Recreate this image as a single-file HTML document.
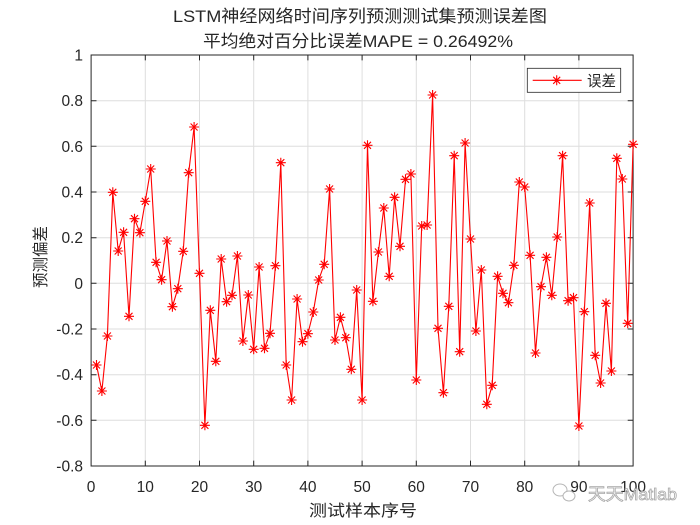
<!DOCTYPE html>
<html><head><meta charset="utf-8"><style>
html,body{margin:0;padding:0;background:#fff;}
svg{display:block;}
text{font-family:"Liberation Sans","Noto Sans CJK SC",sans-serif;fill:#262626;}
</style></head><body>
<svg width="700" height="525" viewBox="0 0 700 525" xmlns="http://www.w3.org/2000/svg">
<defs>
<marker id="m" markerUnits="userSpaceOnUse" markerWidth="12" markerHeight="12" refX="6" refY="6" overflow="visible">
<path d="M1,6H11M6,1V11M2.5,2.5L9.5,9.5M2.5,9.5L9.5,2.5" stroke="#ff0000" stroke-width="1.1" fill="none"/>
</marker>
</defs>
<rect x="0" y="0" width="700" height="525" fill="#fff"/>
<rect x="91.1" y="55" width="542" height="411" fill="#fff"/>
<!-- grid -->
<g stroke="#dedede" stroke-width="1">
<path d="M145.3,55V466M199.5,55V466M253.7,55V466M307.9,55V466M362.1,55V466M416.3,55V466M470.5,55V466M524.7,55V466M578.9,55V466"/>
<path d="M91.1,100.7H633.1M91.1,146.3H633.1M91.1,192H633.1M91.1,237.7H633.1M91.1,283.3H633.1M91.1,329H633.1M91.1,374.7H633.1M91.1,420.3H633.1"/>
</g>
<!-- axes box and ticks -->
<g stroke="#262626" stroke-width="1" fill="none">
<rect x="91.1" y="55" width="542" height="411"/>
<path d="M145.3,466v-5.4M199.5,466v-5.4M253.7,466v-5.4M307.9,466v-5.4M362.1,466v-5.4M416.3,466v-5.4M470.5,466v-5.4M524.7,466v-5.4M578.9,466v-5.4"/>
<path d="M145.3,55v5.4M199.5,55v5.4M253.7,55v5.4M307.9,55v5.4M362.1,55v5.4M416.3,55v5.4M470.5,55v5.4M524.7,55v5.4M578.9,55v5.4"/>
<path d="M91.1,100.7h5.4M91.1,146.3h5.4M91.1,192h5.4M91.1,237.7h5.4M91.1,283.3h5.4M91.1,329h5.4M91.1,374.7h5.4M91.1,420.3h5.4"/>
<path d="M633.1,100.7h-5.4M633.1,146.3h-5.4M633.1,192h-5.4M633.1,237.7h-5.4M633.1,283.3h-5.4M633.1,329h-5.4M633.1,374.7h-5.4M633.1,420.3h-5.4"/>
</g>
<!-- y tick labels -->
<g font-size="15.5" text-anchor="end">
<text x="83" y="60.5">1</text>
<text x="83" y="106.2">0.8</text>
<text x="83" y="151.8">0.6</text>
<text x="83" y="197.5">0.4</text>
<text x="83" y="243.2">0.2</text>
<text x="83" y="288.8">0</text>
<text x="83" y="334.5">-0.2</text>
<text x="83" y="380.2">-0.4</text>
<text x="83" y="425.8">-0.6</text>
<text x="83" y="471.5">-0.8</text>
</g>
<!-- x tick labels -->
<g font-size="15.5" text-anchor="middle">
<text x="91.1" y="492">0</text>
<text x="145.3" y="492">10</text>
<text x="199.5" y="492">20</text>
<text x="253.7" y="492">30</text>
<text x="307.9" y="492">40</text>
<text x="362.1" y="492">50</text>
<text x="416.3" y="492">60</text>
<text x="470.5" y="492">70</text>
<text x="524.7" y="492">80</text>
<text x="578.9" y="492">90</text>
<text x="633.1" y="492">100</text>
</g>
<!-- titles -->
<text x="173" y="22" font-size="17" textLength="374" lengthAdjust="spacingAndGlyphs">LSTM神经网络时间序列预测测试集预测误差图</text>
<text x="203" y="47" font-size="17" textLength="310" lengthAdjust="spacingAndGlyphs">平均绝对百分比误差MAPE = 0.26492%</text>
<!-- axis labels -->
<text x="309" y="516" font-size="16" textLength="108" lengthAdjust="spacingAndGlyphs">测试样本序号</text>
<text transform="translate(46,257) rotate(-90)" x="0" y="0" font-size="16" text-anchor="middle" textLength="62" lengthAdjust="spacingAndGlyphs">预测偏差</text>
<!-- data -->
<polyline fill="none" stroke="#ff0000" stroke-width="1.1" marker-start="url(#m)" marker-mid="url(#m)" marker-end="url(#m)" points="96.5,365 101.9,391 107.4,336 112.8,192.3 118.2,251 123.6,232.3 129.0,316.3 134.5,218.7 139.9,232.7 145.3,201.3 150.7,169 156.1,262.3 161.6,279.7 167.0,241 172.4,306.7 177.8,288.7 183.2,251.3 188.7,172.7 194.1,127 199.5,273.3 204.9,425.3 210.3,310.3 215.8,361.3 221.2,259 226.6,301.7 232.0,295.3 237.4,256 242.9,341 248.3,295 253.7,349.3 259.1,267 264.5,348.3 270.0,333.3 275.4,265.7 280.8,162.7 286.2,365 291.6,400 297.1,299 302.5,341.7 307.9,333.7 313.3,312 318.7,280 324.2,264.3 329.6,189 335.0,340 340.4,317.3 345.8,337.7 351.3,369.3 356.7,290 362.1,400 367.5,145.3 372.9,301.3 378.4,252 383.8,208 389.2,276.3 394.6,197.3 400.0,246.3 405.5,179.3 410.9,174 416.3,380 421.7,226 427.1,225 432.6,95 438.0,328.3 443.4,392.7 448.8,306.3 454.2,155.7 459.7,351.7 465.1,143 470.5,239 475.9,331 481.3,270 486.8,404.3 492.2,385.3 497.6,276.3 503.0,293.3 508.4,302.7 513.9,265.3 519.3,182 524.7,187 530.1,255.3 535.5,353 541.0,286.7 546.4,257.3 551.8,295.3 557.2,237 562.6,155.7 568.1,300.7 573.5,297.7 578.9,426 584.3,311.7 589.7,203 595.2,355.3 600.6,383 606.0,303.3 611.4,371 616.8,158.3 622.3,179 627.7,323.3 633.1,144.3"/>
<!-- legend -->
<rect x="527.3" y="68.3" width="93.4" height="24" fill="#fff" stroke="#262626" stroke-width="0.8"/>
<polyline points="532.7,80.3 556.7,80.3 581.7,80.3" fill="none" stroke="#ff0000" stroke-width="1.1" marker-mid="url(#m)"/>
<text x="587" y="86" font-size="15" textLength="29" lengthAdjust="spacingAndGlyphs">误差</text>
<!-- watermark -->
<g opacity="0.85">
<ellipse cx="560" cy="490" rx="7" ry="6" fill="none" stroke="#aaa" stroke-width="1"/>
<ellipse cx="569" cy="496" rx="6" ry="5" fill="#fff" stroke="#aaa" stroke-width="1"/>
<text x="588" y="500" font-size="17" textLength="89" lengthAdjust="spacingAndGlyphs" style="fill:#fff;stroke:#999;stroke-width:0.8">天天Matlab</text>
</g>
</svg>
</body></html>
